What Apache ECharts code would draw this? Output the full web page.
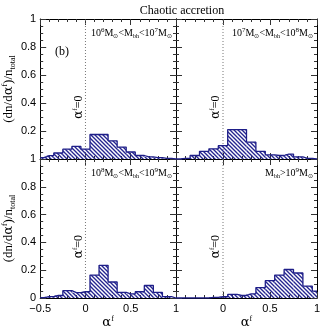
<!DOCTYPE html>
<html>
<head>
<meta charset="UTF-8">
<title>Chaotic accretion</title>
<script src="https://cdn.jsdelivr.net/npm/echarts/dist/echarts.min.js"></script>
</head>
<body style="margin:0;background:#fff">
<div id="main" style="width:335px;height:335px;"></div>
<script>
// bin centres (width 0.1)
var binCentres = [-0.5, -0.4, -0.3, -0.2, -0.1, 0, 0.1, 0.2, 0.3, 0.4, 0.5, 0.6, 0.7, 0.8, 0.9, 1.0];
// (dn/dalpha)/n_total per mass bin
var fracM6M7 = [0.01, 0.024, 0.043, 0.07, 0.09, 0.07, 0.175, 0.175, 0.13, 0.085, 0.05, 0.025, 0.015, 0.01, 0.005, 0];
var fracM7M8 = [0, 0.005, 0.025, 0.055, 0.073, 0.095, 0.21, 0.21, 0.12, 0.055, 0.03, 0.025, 0.035, 0.015, 0.005, 0];
var fracM8M9 = [0.003, 0.01, 0.018, 0.053, 0.039, 0.045, 0.165, 0.235, 0.115, 0.04, 0.03, 0.045, 0.09, 0.04, 0.01, 0];
var fracM9 = [0, 0, 0, 0, 0.004, 0.009, 0.026, 0.018, 0.03, 0.075, 0.125, 0.165, 0.205, 0.18, 0.086, 0.05];

var panelTitles = [
  '10{sup|6}M{sub|\u2299}<M{sub|bh}<10{sup|7}M{sub|\u2299}',
  '10{sup|7}M{sub|\u2299}<M{sub|bh}<10{sup|8}M{sub|\u2299}',
  '10{sup|8}M{sub|\u2299}<M{sub|bh}<10{sup|9}M{sub|\u2299}',
  'M{sub|bh}>10{sup|9}M{sub|\u2299}'
];
var panelData = [fracM6M7, fracM7M8, fracM8M9, fracM9];

var navy = '#1e1e88';
var serif = 'Liberation Serif';

// hatch pattern
var pat = document.createElement('canvas');
pat.width = 4; pat.height = 4;
var ctx = pat.getContext('2d');
ctx.strokeStyle = '#24248f';
ctx.lineWidth = 1.35;
ctx.beginPath();
ctx.moveTo(-1, -1); ctx.lineTo(5, 5);
ctx.moveTo(-1, 3); ctx.lineTo(1, 5);
ctx.moveTo(3, -1); ctx.lineTo(5, 1);
ctx.stroke();

var grids = [
  {left: 36, top: 19, width: 140, height: 140},
  {left: 176, top: 19, width: 141, height: 140},
  {left: 36, top: 159, width: 140, height: 139},
  {left: 176, top: 159, width: 141, height: 139}
];

var richSS = {
  sup: {fontSize: 8, lineHeight: 8, verticalAlign: 'top', fontFamily: serif},
  sub: {fontSize: 8, lineHeight: 8, verticalAlign: 'bottom', fontFamily: serif},
  a: {fontSize: 13, fontFamily: 'DejaVu Serif', lineHeight: 16}
};

var tickStyle = {color: '#333', width: 1};
var xAxes = [], yAxes = [], series = [];

grids.forEach(function (g, i) {
  var isBottom = i >= 2, isLeft = (i % 2) === 0;
  var base = {
    gridIndex: i, type: 'value', min: -0.5, max: 1, interval: 0.5,
    splitLine: {show: false},
    axisLine: {show: true, onZero: false, lineStyle: {color: '#000', width: 1}},
    axisTick: {show: true, inside: true, length: 6, lineStyle: tickStyle},
    minorTick: {show: true, splitNumber: 5, length: 3, lineStyle: tickStyle}
  };
  xAxes.push(Object.assign({}, base, {
    position: 'bottom',
    axisLabel: {
      show: isBottom, margin: 5, fontSize: 11, color: '#000', fontFamily: 'Liberation Sans',
      showMinLabel: true, showMaxLabel: true,
      formatter: function (v) {
        if (v === -0.5) return isLeft ? '\u22120.5' : '';
        return String(v);
      }
    },
    name: isBottom ? '{a|\u03b1}{sup|f}' : '',
    nameLocation: 'middle', nameGap: 17,
    nameTextStyle: {fontSize: 13, lineHeight: 16, color: '#000', fontFamily: serif, rich: richSS}
  }));
  xAxes.push(Object.assign({}, base, {position: 'top', axisLabel: {show: false}}));

  var ybase = {
    gridIndex: i, type: 'value', min: 0, max: 1, interval: 0.2,
    splitLine: {show: false},
    axisLine: {show: true, onZero: false, lineStyle: {color: '#000', width: 1}},
    axisTick: {show: true, inside: true, length: 6, lineStyle: tickStyle},
    minorTick: {show: true, splitNumber: 4, length: 3, lineStyle: tickStyle}
  };
  yAxes.push(Object.assign({}, ybase, {
    position: 'left',
    axisLabel: {
      show: isLeft, margin: 4, fontSize: 11, color: '#000', fontFamily: 'Liberation Sans',
      showMinLabel: true, showMaxLabel: true,
      formatter: function (v) {
        if (v === 0 && !isBottom) return '';
        return String(v);
      }
    },
    name: isLeft ? '(dn/d{a|\u03b1}{sup|f})/n{sub|total}' : '',
    nameLocation: 'middle', nameGap: 17,
    nameTextStyle: {fontSize: 13, lineHeight: 16, color: '#000', fontFamily: serif, rich: richSS}
  }));
  yAxes.push(Object.assign({}, ybase, {position: 'right', axisLabel: {show: false}}));

  var pts = binCentres.map(function (c, k) { return [c, panelData[i][k]]; });

  series.push({
    type: 'custom', xAxisIndex: 2 * i, yAxisIndex: 2 * i, data: pts, silent: true,
    renderItem: function (params, api) {
      var c = api.value(0), h = api.value(1);
      var x0 = Math.max(c - 0.05, -0.5), x1 = Math.min(c + 0.05, 1);
      var p0 = api.coord([x0, h]), p1 = api.coord([x1, 0]);
      return {
        type: 'rect',
        shape: {x: p0[0], y: p0[1], width: p1[0] - p0[0], height: p1[1] - p0[1]},
        style: {fill: {image: pat, repeat: 'repeat'}, stroke: null}
      };
    },
    z: 2
  });
  series.push({
    type: 'line', xAxisIndex: 2 * i, yAxisIndex: 2 * i, data: pts, step: 'middle',
    symbol: 'none', silent: true,
    lineStyle: {color: navy, width: 1.3}, z: 3
  });
  series.push({
    type: 'line', xAxisIndex: 2 * i, yAxisIndex: 2 * i, data: [[0, 0], [0, 1]],
    symbol: 'none', silent: true,
    lineStyle: {color: '#777', width: 1, type: [1, 2]}, z: 1
  });
});

var chart = echarts.init(document.getElementById('main'));
chart.setOption({
  animation: false,
  backgroundColor: '#fff',
  title: {
    text: 'Chaotic accretion', left: 177, top: 0, textAlign: 'center',
    textStyle: {fontSize: 12, fontWeight: 'normal', color: '#000', fontFamily: serif}
  },
  grid: grids,
  xAxis: xAxes,
  yAxis: yAxes,
  series: series
});

// annotations
var gfx = [];
grids.forEach(function (g, i) {
  gfx.push({
    type: 'text', x: g.left + g.width - 4, y: g.top + 14,
    style: {
      text: panelTitles[i], align: 'right', verticalAlign: 'middle',
      fill: '#000', fontSize: 10, fontFamily: serif, lineHeight: 12,
      rich: {
        sup: {fontSize: 7, lineHeight: 7, verticalAlign: 'top', fontFamily: serif},
        sub: {fontSize: 6, lineHeight: 6, verticalAlign: 'bottom', fontFamily: serif}
      }
    },
    z: 10
  });
  var p = chart.convertToPixel({gridIndex: i}, [0, 0.37]);
  gfx.push({
    type: 'text', x: p[0] - 7, y: p[1], rotation: Math.PI / 2,
    style: {
      text: '{a|\u03b1}{sup|f}=0', align: 'center', verticalAlign: 'middle',
      fill: '#000', fontSize: 12, fontFamily: serif, lineHeight: 14,
      rich: {
        a: {fontSize: 12, lineHeight: 14, fontFamily: 'DejaVu Serif'},
        sup: {fontSize: 7, lineHeight: 7, verticalAlign: 'top', fontFamily: serif}
      }
    },
    z: 10
  });
});
gfx.push({
  type: 'text', x: 55, y: 52,
  style: {text: '(b)', fill: '#000', fontSize: 12, fontFamily: serif, verticalAlign: 'middle'},
  z: 10
});
chart.setOption({graphic: gfx});
</script>
</body>
</html>
